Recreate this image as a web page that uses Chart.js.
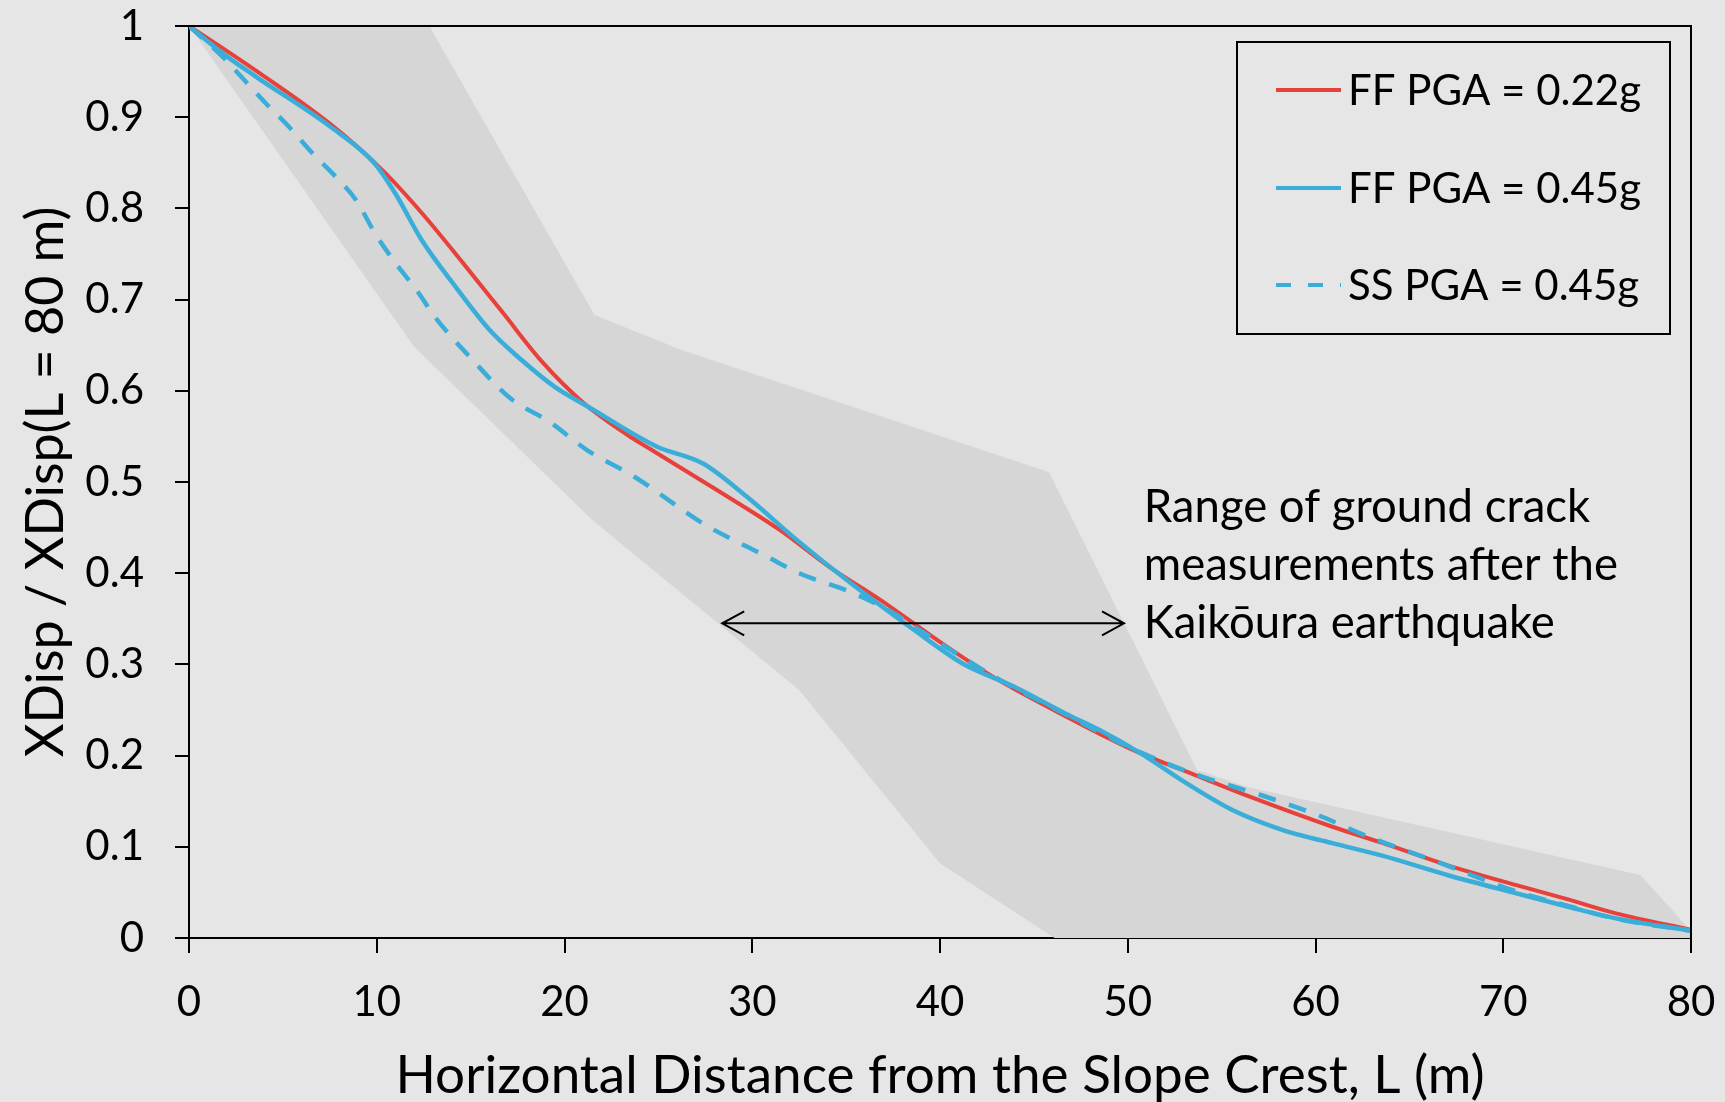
<!DOCTYPE html>
<html>
<head>
<meta charset="utf-8">
<script src="https://cdn.jsdelivr.net/npm/chart.js@4.4.1/dist/chart.umd.min.js"></script>
<style>
html,body{margin:0;padding:0;background:#e6e6e6;}
canvas{display:block;}
</style>
</head>
<body>
<canvas id="c" width="1725" height="1102"></canvas>
<script>
// ---------- data ----------
const xTickValues = [0, 10, 20, 30, 40, 50, 60, 70, 80];
const xTickLabels = ['0', '10', '20', '30', '40', '50', '60', '70', '80'];
const yTickValues = [0, 0.1, 0.2, 0.3, 0.4, 0.5, 0.6, 0.7, 0.8, 0.9, 1];
const yTickLabels = ['0', '0.1', '0.2', '0.3', '0.4', '0.5', '0.6', '0.7', '0.8', '0.9', '1'];

const seriesLabels = ['FF PGA = 0.22g', 'FF PGA = 0.45g', 'SS PGA = 0.45g'];

const ff022X = [0, 3.0, 7.5, 10.3, 12.4, 14.6, 16.7, 18.8, 21.0, 23.4, 24.5, 27.9, 31.5, 34.1, 36.8, 38.6, 40.4, 43.1, 46.7, 50.3, 53.8, 56.5, 60.9, 63.6, 67.0, 70.7, 73.5, 76.0, 80];
const ff022Y = [1.0, 0.959, 0.893, 0.842, 0.795, 0.740, 0.686, 0.632, 0.587, 0.551, 0.537, 0.494, 0.447, 0.407, 0.371, 0.345, 0.319, 0.283, 0.243, 0.206, 0.177, 0.155, 0.122, 0.104, 0.080, 0.058, 0.042, 0.027, 0.009];

const ff045X = [0, 1.8, 3.6, 7.5, 9.9, 11.0, 12.4, 14.2, 16.0, 17.7, 19.5, 21.3, 24.9, 27.4, 29.7, 32.4, 35.0, 38.6, 41.2, 43.9, 46.7, 48.5, 50.65, 53.1, 55.6, 58.3, 60.9, 63.6, 67.2, 70.7, 73.5, 76.0, 80];
const ff045Y = [1.0, 0.970, 0.944, 0.890, 0.849, 0.816, 0.765, 0.714, 0.667, 0.634, 0.604, 0.582, 0.539, 0.520, 0.484, 0.436, 0.393, 0.338, 0.301, 0.276, 0.246, 0.228, 0.203, 0.170, 0.140, 0.118, 0.104, 0.090, 0.068, 0.049, 0.034, 0.0215, 0.008];

const ss045X = [0, 1.8, 2.8, 4.1, 5.3, 6.6, 7.8, 8.9, 9.9, 11.0, 12.1, 13.1, 15.1, 17.1, 19.2, 21.2, 23.7, 27.5, 30.8, 32.5, 35.4, 37.2, 38.6, 40.4, 43.2, 46.7, 50.3, 53.8, 56.9, 60.1, 62.7, 66.3, 70.7, 73.5, 76.0, 80];
const ss045Y = [1.0, 0.966, 0.944, 0.915, 0.890, 0.860, 0.835, 0.809, 0.773, 0.740, 0.711, 0.681, 0.634, 0.592, 0.566, 0.535, 0.506, 0.453, 0.418, 0.400, 0.378, 0.360, 0.342, 0.318, 0.283, 0.245, 0.207, 0.178, 0.158, 0.135, 0.112, 0.085, 0.051, 0.035, 0.021, 0.008];

// range of ground crack measurements (shaded band): upper edge then lower edge back
const bandUpperX = [0, 12.8, 21.6, 26.2, 45.8, 53.7, 56.5, 77.3, 80];
const bandUpperY = [1, 1, 0.683, 0.645, 0.511, 0.184, 0.165, 0.069, 0.008];
const bandLowerX = [80, 46.1, 40.0, 32.5, 21.5, 12.0, 0];
const bandLowerY = [0, 0, 0.082, 0.272, 0.458, 0.648, 1];

const annotationLines = ['Range of ground crack', 'measurements after the', 'Kaikōura earthquake'];
const arrowFromX = 28.4, arrowToX = 49.8, arrowY = 0.345;
const annotationX = 50.85;

const xTitle = 'Horizontal Distance from the Slope Crest, L (m)';
const yTitle = 'XDisp / XDisp(L = 80 m)';

// ---------- build ----------
const toPoints = (xs, ys) => xs.map((x, i) => ({x: x, y: ys[i]}));
const RED = '#e8403a';
const BLUE = '#3aaed8';
const FONT = 'Lato';

const bandPoints = toPoints(bandUpperX, bandUpperY).concat(toPoints(bandLowerX, bandLowerY));

const framePlugin = {
  id: 'frame',
  afterDatasetsDraw(chart) {
    const {ctx, chartArea: a} = chart;
    ctx.save();
    ctx.strokeStyle = '#000';
    ctx.lineWidth = 2;
    ctx.beginPath();
    ctx.moveTo(a.left, a.top);
    ctx.lineTo(a.right, a.top);
    ctx.lineTo(a.right, a.bottom);
    ctx.stroke();
    ctx.restore();
  }
};

const annotationPlugin = {
  id: 'annot',
  afterDatasetsDraw(chart) {
    const {ctx, scales: {x, y}} = chart;
    ctx.save();
    const x1 = x.getPixelForValue(arrowFromX), x2 = x.getPixelForValue(arrowToX), yy = y.getPixelForValue(arrowY);
    ctx.strokeStyle = '#000';
    ctx.lineWidth = 2;
    ctx.beginPath();
    ctx.moveTo(x1, yy); ctx.lineTo(x2, yy);
    ctx.moveTo(x1 + 22, yy - 12); ctx.lineTo(x1, yy); ctx.lineTo(x1 + 22, yy + 12);
    ctx.moveTo(x2 - 22, yy - 12); ctx.lineTo(x2, yy); ctx.lineTo(x2 - 22, yy + 12);
    ctx.stroke();
    ctx.fillStyle = '#000';
    ctx.font = '45.5px ' + FONT;
    ctx.textAlign = 'left';
    ctx.textBaseline = 'alphabetic';
    const tx = x.getPixelForValue(annotationX);
    annotationLines.forEach((t, i) => ctx.fillText(t, tx, yy - 101 + i * 58));
    ctx.restore();
  }
};

const legendPlugin = {
  id: 'boxLegend',
  afterDraw(chart) {
    const {ctx} = chart;
    ctx.save();
    ctx.strokeStyle = '#000';
    ctx.lineWidth = 2;
    ctx.fillStyle = '#e6e6e6';
    ctx.fillRect(1237, 42, 433, 292);
    ctx.strokeRect(1237, 42, 433, 292);
    const rows = [90, 188, 285];
    chart.data.datasets.slice(0, 3).forEach((ds, i) => {
      ctx.beginPath();
      ctx.strokeStyle = ds.borderColor;
      ctx.lineWidth = 4;
      ctx.setLineDash(ds.borderDash && ds.borderDash.length ? [15, 17] : []);
      ctx.moveTo(1276, rows[i]);
      ctx.lineTo(1341, rows[i]);
      ctx.stroke();
      ctx.setLineDash([]);
      ctx.fillStyle = '#000';
      ctx.font = '42px ' + FONT;
      ctx.textAlign = 'left';
      ctx.textBaseline = 'alphabetic';
      ctx.fillText(ds.label, 1348, rows[i] + 15);
    });
    ctx.restore();
  }
};

const bgPlugin = {
  id: 'bg',
  beforeDraw(chart) {
    const {ctx, width, height} = chart;
    ctx.save();
    ctx.fillStyle = '#e6e6e6';
    ctx.fillRect(0, 0, width, height);
    ctx.restore();
  }
};

new Chart(document.getElementById('c'), {
  type: 'line',
  data: {
    datasets: [
      {label: seriesLabels[0], data: toPoints(ff022X, ff022Y), borderColor: RED, borderWidth: 4, pointRadius: 0, fill: false, cubicInterpolationMode: 'monotone', order: 3},
      {label: seriesLabels[1], data: toPoints(ff045X, ff045Y), borderColor: BLUE, borderWidth: 4.5, pointRadius: 0, fill: false, cubicInterpolationMode: 'monotone', order: 2},
      {label: seriesLabels[2], data: toPoints(ss045X, ss045Y), borderColor: BLUE, borderWidth: 4.5, borderDash: [18, 14], borderCapStyle: 'butt', pointRadius: 0, fill: false, cubicInterpolationMode: 'monotone', order: 1},
      {label: 'band', data: bandPoints, borderWidth: 0, borderColor: 'rgba(0,0,0,0)', backgroundColor: '#d6d6d6', pointRadius: 0, fill: 'shape', tension: 0, order: 10}
    ]
  },
  options: {
    responsive: false,
    animation: false,
    devicePixelRatio: 1,
    layout: {padding: {top: 26, right: 34, left: 0, bottom: 0}},
    plugins: {legend: {display: false}, tooltip: {enabled: false}},
    scales: {
      x: {
        type: 'linear', min: 0, max: 80,
        afterBuildTicks: s => { s.ticks = xTickValues.map(v => ({value: v})); },
        afterFit: s => { s.height = 164; s.paddingLeft = 0; s.paddingRight = 0; },
        ticks: {callback: (v, i) => xTickLabels[i], font: {family: FONT, size: 42}, color: '#000', padding: 24, maxRotation: 0, autoSkip: false},
        grid: {drawOnChartArea: false, drawTicks: true, tickLength: 15, color: '#000', lineWidth: 2},
        border: {display: true, color: '#000', width: 2},
        title: {display: true, text: xTitle, font: {family: FONT, size: 53, lineHeight: 1}, color: '#000', padding: {top: 0, bottom: 0}}
      },
      y: {
        type: 'linear', min: 0, max: 1,
        afterBuildTicks: s => { s.ticks = yTickValues.map(v => ({value: v})); },
        afterFit: s => { s.width = 189; s.paddingTop = 0; s.paddingBottom = 0; },
        ticks: {callback: (v, i) => yTickLabels[i], font: {family: FONT, size: 42}, color: '#000', padding: 31, autoSkip: false},
        grid: {drawOnChartArea: false, drawTicks: true, tickLength: 14, color: '#000', lineWidth: 2},
        border: {display: true, color: '#000', width: 2},
        title: {display: true, text: yTitle, font: {family: FONT, size: 52, lineHeight: 1.2}, color: '#000', padding: {top: 15, bottom: 0}}
      }
    }
  },
  plugins: [bgPlugin, framePlugin, annotationPlugin, legendPlugin]
});
</script>
</body>
</html>
